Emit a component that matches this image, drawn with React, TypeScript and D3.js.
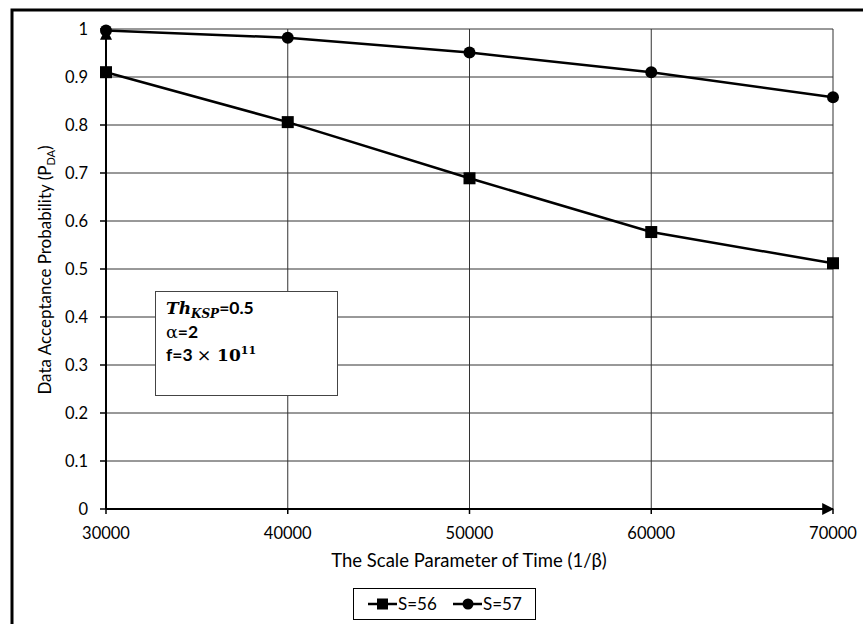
import React, { useEffect, useRef } from 'react';
import * as d3 from 'd3';

const timeScale = [30000, 40000, 50000, 60000, 70000];
const s56 = [0.91, 0.806, 0.689, 0.577, 0.512];
const s57 = [0.997, 0.982, 0.951, 0.91, 0.858];
const yTicks = [0, 0.1, 0.2, 0.3, 0.4, 0.5, 0.6, 0.7, 0.8, 0.9, 1];

const FONT = 'Lato, "Open Sans", sans-serif';
const SERIF = '"DejaVu Serif", serif';

function App() {
  const svgRef = useRef<SVGSVGElement>(null);

  useEffect(() => {
    const svg = d3.select(svgRef.current);
    svg.selectAll('*').remove();

    const x = d3.scaleLinear().domain([30000, 70000]).range([106, 833]);
    const y = d3.scaleLinear().domain([0, 1]).range([509, 29]);

    svg.append('rect').attr('width', 863).attr('height', 624).attr('fill', '#fff');

    // outer frame, cut off at right and bottom
    svg.append('rect')
      .attr('x', 12).attr('y', 10).attr('width', 900).attr('height', 700)
      .attr('fill', 'none').attr('stroke', '#000').attr('stroke-width', 3);

    const defs = svg.append('defs');
    defs.append('marker')
      .attr('id', 'arrow')
      .attr('viewBox', '0 0 10 10')
      .attr('refX', 9).attr('refY', 5)
      .attr('markerWidth', 6).attr('markerHeight', 6)
      .attr('orient', 'auto')
      .append('path').attr('d', 'M0,0 L10,5 L0,10 z').attr('fill', '#000');

    const grid = svg.append('g').attr('stroke', '#333').attr('stroke-width', 1);
    grid.selectAll('.h').data(yTicks.slice(1)).enter().append('line')
      .attr('x1', x(30000)).attr('x2', x(70000))
      .attr('y1', d => y(d)).attr('y2', d => y(d));
    grid.selectAll('.v').data(timeScale.slice(1)).enter().append('line')
      .attr('x1', d => x(d)).attr('x2', d => x(d))
      .attr('y1', y(0)).attr('y2', y(1));

    // axes
    svg.append('line')
      .attr('x1', x(30000)).attr('x2', x(70000))
      .attr('y1', y(0)).attr('y2', y(0))
      .attr('stroke', '#000').attr('stroke-width', 2).attr('marker-end', 'url(#arrow)');
    svg.append('line')
      .attr('x1', x(30000)).attr('x2', x(30000))
      .attr('y1', y(0)).attr('y2', y(1))
      .attr('stroke', '#000').attr('stroke-width', 2).attr('marker-end', 'url(#arrow)');

    svg.append('g').selectAll('line').data(yTicks).enter().append('line')
      .attr('x1', x(30000) - 6).attr('x2', x(30000))
      .attr('y1', d => y(d)).attr('y2', d => y(d))
      .attr('stroke', '#000').attr('stroke-width', 1.5);
    svg.append('g').selectAll('line').data(timeScale).enter().append('line')
      .attr('x1', d => x(d)).attr('x2', d => x(d))
      .attr('y1', y(0)).attr('y2', y(0) + 5)
      .attr('stroke', '#000').attr('stroke-width', 1.5);

    svg.append('g').selectAll('text').data(yTicks).enter().append('text')
      .attr('x', 88).attr('y', d => y(d)).attr('dy', '0.35em')
      .attr('text-anchor', 'end').attr('font-family', FONT).attr('font-size', 16.5)
      .text(d => String(d));
    svg.append('g').selectAll('text').data(timeScale).enter().append('text')
      .attr('x', d => x(d)).attr('y', 533).attr('dy', '0.35em')
      .attr('text-anchor', 'middle').attr('font-family', FONT).attr('font-size', 16.5)
      .text(d => String(d));

    svg.append('text')
      .attr('x', 469).attr('y', 561).attr('dy', '0.35em')
      .attr('text-anchor', 'middle').attr('font-family', FONT).attr('font-size', 18.5)
      .text('The Scale Parameter of Time (1/β)');

    const yt = svg.append('text')
      .attr('transform', 'translate(45,270) rotate(-90)')
      .attr('dy', '0.35em')
      .attr('text-anchor', 'middle').attr('font-family', FONT).attr('font-size', 17);
    yt.append('tspan').text('Data Acceptance Probability (P');
    yt.append('tspan').attr('font-size', 11).attr('dy', '0.4em').text('DA');
    yt.append('tspan').attr('dy', '-0.27em').text(')');

    const line = d3.line<number>()
      .x((_, i) => x(timeScale[i]))
      .y(d => y(d));

    svg.append('path').datum(s56).attr('d', line)
      .attr('fill', 'none').attr('stroke', '#000').attr('stroke-width', 2.5);
    svg.append('path').datum(s57).attr('d', line)
      .attr('fill', 'none').attr('stroke', '#000').attr('stroke-width', 2.5);

    svg.append('g').selectAll('rect').data(s56).enter().append('rect')
      .attr('x', (_, i) => x(timeScale[i]) - 6)
      .attr('y', d => y(d) - 6)
      .attr('width', 12).attr('height', 12).attr('fill', '#000');
    svg.append('g').selectAll('circle').data(s57).enter().append('circle')
      .attr('cx', (_, i) => x(timeScale[i]))
      .attr('cy', d => y(d))
      .attr('r', 6).attr('fill', '#000');

    // annotation box
    svg.append('rect')
      .attr('x', 155.5).attr('y', 291.5).attr('width', 182).attr('height', 104)
      .attr('fill', '#fff').attr('stroke', '#444').attr('stroke-width', 1);
    const a1 = svg.append('text').attr('x', 166).attr('y', 314)
      .attr('font-family', SERIF).attr('font-size', 17).attr('font-weight', 'bold');
    a1.append('tspan').attr('font-style', 'italic').text('Th');
    a1.append('tspan').attr('font-style', 'italic').attr('font-size', 12).attr('dy', 4).text('KSP');
    a1.append('tspan').attr('dy', -4).attr('font-family', FONT).attr('font-size', 17.5).text('=0.5');
    const a2 = svg.append('text').attr('x', 166).attr('y', 338)
      .attr('font-family', FONT).attr('font-size', 17.5).attr('font-weight', 'bold');
    a2.append('tspan').attr('font-family', SERIF).attr('font-weight', 'normal').text('α');
    a2.append('tspan').text('=2');
    const a3 = svg.append('text').attr('x', 166).attr('y', 361)
      .attr('font-family', FONT).attr('font-size', 17.5).attr('font-weight', 'bold');
    a3.append('tspan').text('f=3 ');
    a3.append('tspan').attr('font-family', SERIF).attr('font-weight', 'normal').text('× ');
    a3.append('tspan').attr('font-family', SERIF).attr('font-size', 17).text('10');
    a3.append('tspan').attr('font-family', SERIF).attr('font-size', 11).attr('dy', -7).text('11');

    // legend
    const lg = svg.append('g');
    lg.append('rect')
      .attr('x', 353.5).attr('y', 588.5).attr('width', 182).attr('height', 31)
      .attr('fill', '#fff').attr('stroke', '#000').attr('stroke-width', 1);
    const items = [{ label: 'S=56', shape: 'square' }, { label: 'S=57', shape: 'circle' }];
    items.forEach((it, i) => {
      const gx = 368 + i * 85;
      const gy = 604;
      lg.append('line').attr('x1', gx).attr('x2', gx + 29).attr('y1', gy).attr('y2', gy)
        .attr('stroke', '#000').attr('stroke-width', 2.5);
      if (it.shape === 'square') {
        lg.append('rect').attr('x', gx + 9).attr('y', gy - 5.5).attr('width', 11).attr('height', 11).attr('fill', '#000');
      } else {
        lg.append('circle').attr('cx', gx + 15).attr('cy', gy).attr('r', 5.5).attr('fill', '#000');
      }
      lg.append('text').attr('x', gx + 30).attr('y', gy).attr('dy', '0.35em')
        .attr('font-family', FONT).attr('font-size', 17).text(it.label);
    });
  }, []);

  return (
    <svg ref={svgRef} width={863} height={624} style={{ position: 'absolute', left: 0, top: 0 }}></svg>
  );
}

export default App;
